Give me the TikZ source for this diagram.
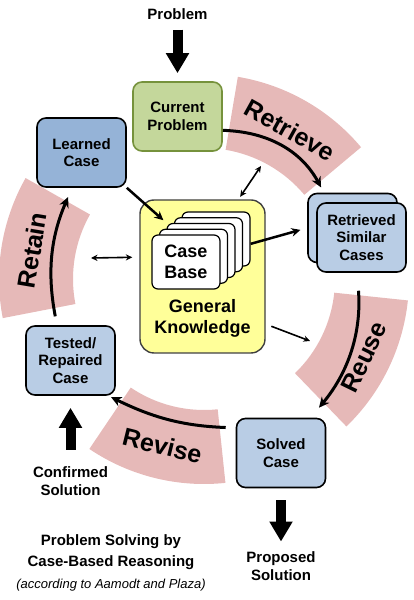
\documentclass[tikz,border=0pt]{standalone}
\usepackage{fontspec}
\setmainfont{Liberation Sans}
\usepackage{xcolor}
\usetikzlibrary{positioning,arrows.meta}
\definecolor{phasepink}{RGB}{230,185,184}
\definecolor{cpfill}{RGB}{196,215,155}
\definecolor{cpline}{RGB}{118,146,60}
\definecolor{lcfill}{RGB}{149,179,215}
\definecolor{casefill}{RGB}{185,205,229}
\definecolor{gkfill}{RGB}{255,255,153}
\definecolor{gkline}{RGB}{64,64,64}

\begin{document}
\begin{tikzpicture}[x=1pt,y=1pt,on grid,
  >={Stealth[length=2pt 2.8,width=2pt 2.6]},
  box/.style={draw,rounded corners=9pt,line width=1.6pt,minimum width=89pt,minimum height=69pt,align=center,font=\fontsize{15}{17.5}\selectfont\bfseries},
  card/.style={draw,fill=white,rounded corners=6pt,line width=1.2pt,minimum width=68pt,minimum height=54pt,align=center,font=\fontsize{18}{21}\selectfont\bfseries},
  lbl/.style={align=center,inner sep=0pt,font=\fontsize{15}{17.5}\selectfont\bfseries},
  phase/.style={fill=phasepink},
  phasetext/.style={font=\fontsize{25}{30}\selectfont\bfseries},
  cyc/.style={->,line width=3pt},
  big/.style={-{Triangle[length=20pt,width=22pt]},line width=10pt},
  link/.style={->,line width=2.5pt},
  twoway/.style={<->,line width=1.6pt}]
   \useasboundingbox (0,0) rectangle (414,600);
   \coordinate (c) at (204,321);
   % the four phases
   \fill[phase] ([shift={(40:131)}]c) arc[start angle=40,end angle=80.5,radius=131] -- ([shift={(80.5:205)}]c) arc[start angle=80.5,end angle=40,radius=205] -- cycle;
   \fill[phase] ([shift={(-46:131)}]c) arc[start angle=-46,end angle=-6,radius=131] -- ([shift={(-6:205)}]c) arc[start angle=-6,end angle=-46,radius=205] -- cycle;
   \fill[phase] ([shift={(236:131)}]c) arc[start angle=236,end angle=276,radius=131] -- ([shift={(276:205)}]c) arc[start angle=276,end angle=236,radius=205] -- cycle;
   \fill[phase] ([shift={(150.5:131)}]c) arc[start angle=150.5,end angle=191,radius=131] -- ([shift={(191:205)}]c) arc[start angle=191,end angle=150.5,radius=205] -- cycle;
   \node[phasetext,rotate=-29] (tretrieve) at ([shift={(60:172)}]c) {Retrieve};
   \node[phasetext,rotate=64] (treuse) at ([shift={(-26:178)}]c) {Reuse};
   \node[phasetext,rotate=-14] (trevise) at ([shift={(256:172)}]c) {Revise};
   \node[phasetext,rotate=80.5] (tretain) at ([shift={(170.5:174)}]c) {Retain};
   % cases
   \node[box,fill=cpfill,draw=cpline] (cp) at (177.5,483.5) {Current\\Problem};
   \node[box,fill=lcfill] (lc) at (81.5,447.5) {Learned\\Case};
   \node[box,fill=casefill] (rb) at (352.5,372) {};
   \node[box,fill=casefill] (rf) [below right=9.5pt and 9pt of rb] {Retrieved\\Similar\\Cases};
   \node[box,fill=casefill] (tr) at (70.5,239.5) {Tested/\\Repaired\\Case};
   \node[box,fill=casefill] (sc) at (281,147) {Solved\\Case};
   % knowledge
   \node[draw=gkline,fill=gkfill,rounded corners=14pt,line width=1.4pt,minimum width=125pt,minimum height=153pt] (gk) at (202.5,323.5) {};
   \node[card] (cb4) at (216,361) {};
   \node[card] (cb3) [below left=5.75pt and 7.5pt of cb4] {};
   \node[card] (cb2) [below left=5.75pt and 7.5pt of cb3] {};
   \node[card] (cb1) [below left=5.75pt and 7.5pt of cb2] {};
   \node[card] (cb0) [below left=5.75pt and 7.5pt of cb1] {Case\\Base};
   \node[lbl,font=\fontsize{18}{21}\selectfont\bfseries] (gkl) [below=41.5pt of gk] {General\\Knowledge};
   % in and out
   \node[lbl] (prob) [above=102.5pt of cp] {Problem};
   \node[lbl] (conf) [below=120.5pt of tr] {Confirmed\\Solution};
   \node[lbl] (prop) [below=113pt of sc] {Proposed\\Solution};
   \node[lbl,font=\fontsize{15}{21}\selectfont\bfseries] (cap) at (111,37) {Problem Solving by\\Case-Based Reasoning\\[1pt]{\fontsize{13}{21}\selectfont\mdseries\itshape (according to Aamodt and Plaza)}};
   \coordinate (kt) at (261,434);
   \coordinate (kl) at (91,342);
   \coordinate (kr) at (310,259);
   \path[big]
   (prob) edge[shorten <=10pt,shorten >=8pt] (cp)
   (conf) edge[shorten <=17pt,shorten >=12pt] (tr)
   (sc) edge[shorten <=12pt,shorten >=10pt] (prop);
   \path[cyc]
   (cp.-17) edge[bend left=30,shorten >=6pt] (rb.129)
   (rf.-97) edge[bend left=22,shorten <=18pt,shorten >=13pt] (sc.50)
   (sc.151) edge[bend left=12,shorten <=10pt,shorten >=3pt] (tr.-43)
   (tr.111) edge[bend left=17,shorten <=9pt,shorten >=10pt] (lc.-105);
   \path[link]
   (lc.south east) edge[shorten >=4pt] (cb2.north west)
   (cb4.-8) edge[shorten >=7pt] (rb.west);
   \path[twoway]
   (gk.65) edge[shorten <=3pt] (kt)
   (kl) edge[shorten >=7pt] (gk.163.5);
   \path[->,line width=1.6pt] (gk.-37) edge[shorten <=6pt] (kr);
\end{tikzpicture}
\end{document}
